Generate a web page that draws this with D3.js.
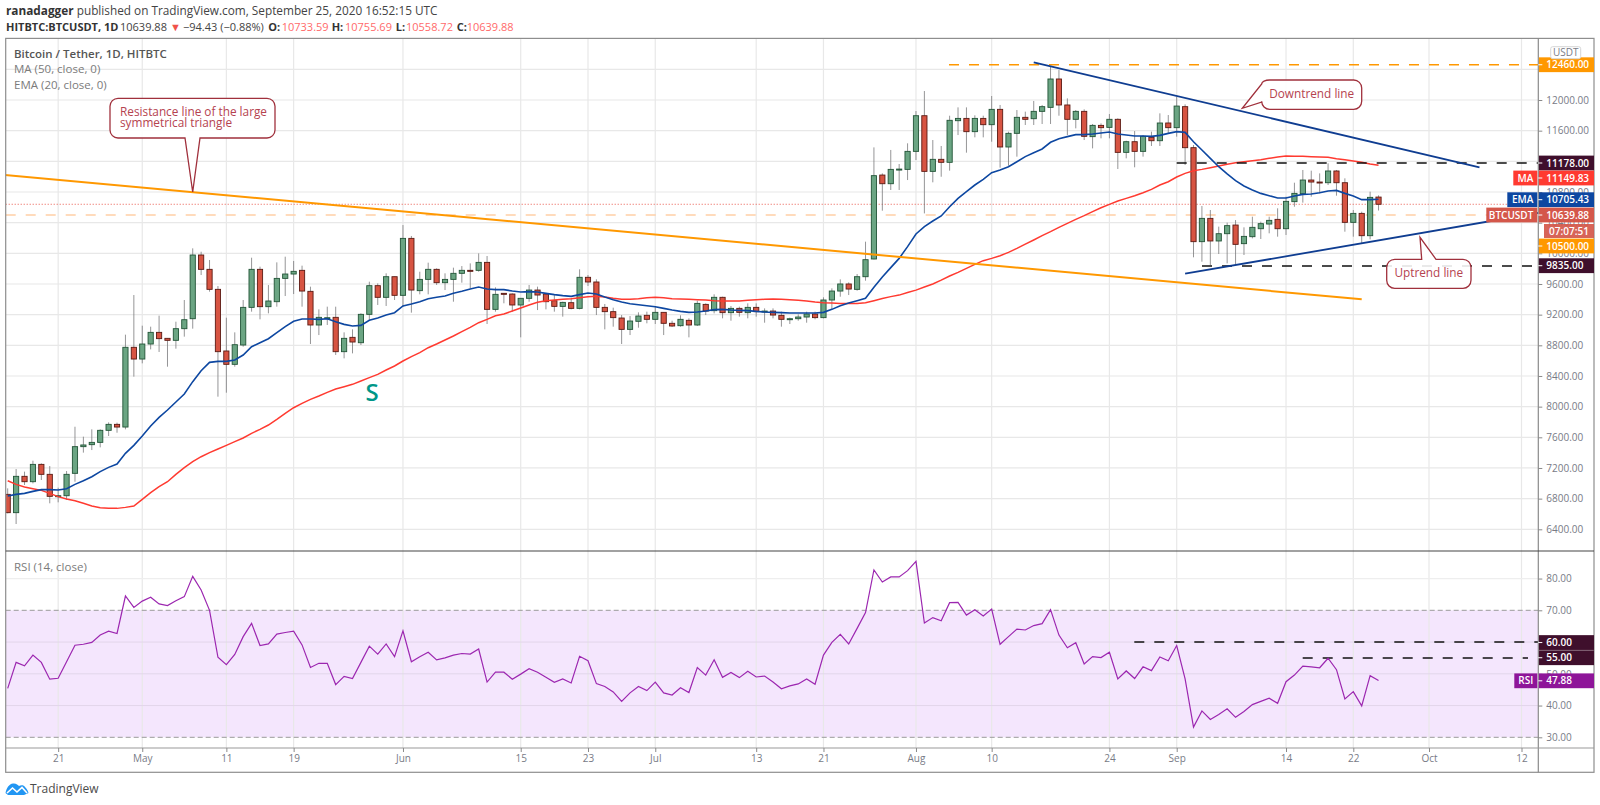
<!DOCTYPE html>
<html>
<head>
<meta charset="utf-8">
<style>
  html, body { margin: 0; padding: 0; background: #fff; }
  svg { display: block; }
  text { font-family: "Open Sans", "Noto Sans", sans-serif; }
</style>
</head>
<body>
<div class="container"></div>
<script src="https://cdn.jsdelivr.net/npm/d3@7"></script>
<script>
// daily candles 15 Apr .. 25 Sep 2020
const opens = [
  6856,6617,7091,7021,7247,7117,6826,6838,7130,7478,7504,7534,7691,7769,7734,8774,
  8621,8817,8969,8891,8865,9017,9147,9978,9791,9530,8726,8552,8804,9295,9791,9304,9369,9673,9730,9778,9504,9065,9150,9165,8717,8904,8834,9204,9578,9426,9695,
  9452,10195,9513,9660,9791,9617,9660,9739,9778,9778,9882,9269,9478,9469,9326,9413,9521,9469,9382,9308,9356,9282,9687,9626,9295,9239,9156,9008,9113,9191,
  9139,9230,9087,9056,9126,9065,9334,9252,9426,9226,9282,9226,9295,9234,9247,9191,9139,9147,9169,9208,9161,9391,9508,9600,9530,9695,9926,11021,10908,11091,11095,
  11330,11795,11069,11226,11187,11730,11760,11587,11760,11678,11878,11387,11565,11774,11756,11852,11904,12274,11935,11748,11852,11522,11669,11643,11748,11317,11456,11330,11513,11469,11700,
  11639,11913,11378,10152,10456,10161,10256,10369,10126,10217,10321,10382,10443,10321,10674,10778,10956,10930,10921,11074,10921,10404,10521,10230,10733.59
]
const highs = [
  6934,7186,7152,7295,7260,7225,6943,7160,7738,7608,7704,7704,7795,7791,8939,9456,
  9056,9043,9187,8891,9108,9391,10065,10021,9913,9573,9160,8969,9391,9943,9826,9586,9882,9956,9900,9839,9565,9269,9304,9304,8969,9008,9217,9630,9608,9739,9695,
  10369,10226,9760,9878,9804,9739,9813,9834,9869,9999,9965,9556,9478,9478,9413,9587,9565,9478,9456,9369,9413,9791,9717,9661,9339,9291,9195,9182,9230,9239,
  9304,9230,9121,9191,9152,9382,9347,9465,9434,9313,9304,9347,9347,9282,9282,9239,9161,9204,9239,9239,9426,9543,9660,9621,9730,10152,11382,11043,11348,11165,11435,
  11856,12117,11478,11400,11795,11904,11904,11800,11795,12052,11935,11587,11869,11848,11987,11935,12435,12391,12021,11869,11878,11687,11695,11817,11761,11469,11595,11543,11587,11826,11804,
  12043,11943,11413,10617,10565,10348,10400,10434,10339,10478,10413,10478,10587,10739,10921,11087,11078,11043,11174,11087,10978,10565,10543,10804,10755.69
]
const lows = [
  6608,6469,6978,6999,7043,6739,6752,6782,7021,7400,7434,7469,7617,7660,7704,8391,
  8565,8747,8713,8521,8756,8913,9017,9717,9500,8130,8182,8521,8782,9239,9139,9217,9304,9443,9469,9304,8817,8934,9065,8674,8630,8695,8804,9130,9326,9313,9391,
  9304,9226,9465,9465,9587,9521,9369,9617,9543,9760,9078,9239,9348,9239,8904,9369,9260,9269,9239,9174,9269,9269,9574,9195,9008,9043,8817,8934,9030,9087,
  9078,8934,9039,9043,8904,9052,9195,9217,9152,9121,9174,9152,9174,9095,9152,9043,9078,9121,9095,9139,9152,9269,9434,9456,9513,9643,9921,10556,10826,10826,10956,
  11217,10521,10926,10999,11078,11543,11313,11513,11513,11456,11117,11143,11261,11674,11674,11687,11687,11795,11543,11630,11478,11369,11500,11500,11100,11239,11122,11261,11400,11400,11565,
  11522,11152,9948,9891,9848,9991,9869,9848,9978,10195,10187,10261,10217,10239,10608,10661,10739,10782,10891,10752,10282,10217,10130,10182,10558.72
]
const closes = [
  6617,7091,7021,7247,7117,6830,6838,7117,7478,7500,7534,7691,7769,7734,8774,8621,
  8817,8969,8887,8865,9017,9134,9978,9791,9530,8717,8552,8808,9295,9791,9304,9378,9673,9730,9765,9508,9065,9165,9160,8717,8891,8843,9204,9578,9426,9695,9452,
  10195,9521,9660,9791,9617,9660,9739,9778,9765,9882,9269,9465,9474,9326,9413,9521,9456,9369,9308,9360,9282,9687,9626,9295,9239,9161,9008,9117,9182,9139,
  9230,9087,9052,9139,9065,9347,9247,9426,9226,9282,9230,9295,9239,9247,9195,9139,9147,9169,9208,9161,9391,9508,9600,9534,9695,9917,11013,10908,11095,11099,11330,
  11795,11069,11226,11187,11735,11760,11587,11760,11678,11878,11387,11565,11774,11748,11852,11913,12274,11935,11748,11852,11526,11669,11639,11748,11317,11456,11330,11526,11469,11700,11639,
  11921,11378,10152,10456,10161,10256,10361,10117,10221,10339,10387,10430,10321,10678,10782,10956,10930,10921,11074,10921,10404,10521,10230,10730,10639.88
]
const ema20 = [
  6834,6856,6869,6895,6917,6917,6912,6930,6986,7034,7086,7152,7208,7252,7391,7495,
  7617,7747,7860,7956,8060,8165,8326,8469,8578,8591,8591,8608,8673,8782,8834,8886,8965,9043,9113,9143,9143,9139,9147,9108,9073,9052,9060,9126,9156,9195,9226,
  9313,9339,9369,9408,9426,9443,9478,9504,9534,9560,9534,9526,
  9526,9508,9495,9500,9495,9478,9461,9448,9439,9461,9482,9469,9430,9395,9365,9343,9330,9317,
  9304,9282,9261,9243,9230,9234,9247,9265,9269,9261,9256,9252,9243,9234,9230,9226,9221,9221,9221,9221,9230,9269,9317,9352,9382,9413,9556,9691,9813,9934,10087,
  10252,10348,10421,10487,10608,10717,10804,10891,10965,11052,11087,11130,11195,11261,11313,11361,11448,11495,11522,11548,11548,11556,11569,11582,11556,11543,11530,11530,11526,11539,11565,
  11587,11578,11456,11348,11239,11130,11035,10948,10878,10826,10782,10752,10721,10721,10748,10769,10774,10791,10813,10821,10782,10748,10700,10700,10705.43
]
const ma50 = [
  7034,6986,6952,6930,6908,6869,6826,6795,6773,6739,6704,6682,6673,6673,6686,6704,
  6791,6878,6956,7021,7117,7204,7282,7347,7400,7447,7495,7543,7591,7652,7704,7760,7834,7913,7986,8043,8095,8139,8186,8230,8260,8291,8334,8378,8421,8478,8530,
  8595,8652,8704,8769,8817,8869,8921,8978,9034,9095,9139,9186,
  9208,9247,9287,9326,9361,9382,9391,9400,9408,9421,9434,9439,9430,9413,9400,9400,9408,9421,
  9426,9421,9408,9404,9400,9395,9391,9382,9378,9378,9378,9387,9395,9400,9404,9400,9395,9387,9378,9365,9356,9352,9347,9347,9347,9356,9382,9410,9435,9455,9490,
  9520,9560,9600,9650,9704,9752,9804,9856,9904,9934,9969,10013,10065,10121,10174,10230,10282,10339,10391,10443,10491,10543,10595,10639,10682,10717,10752,10791,10834,10891,10934,
  10995,11043,11078,11095,11117,11139,11161,11182,11195,11208,11221,11239,11256,11269,11265,11265,11261,11256,11252,11235,11221,11204,11187,11165,11149.83
]
const rsi14 = [
  45.4,53.6,52.5,55.9,53.6,48.3,48.6,53.8,59.0,59.3,59.9,62.2,63.4,62.7,74.5,70.9,
  72.9,74.1,72.0,71.5,73.0,74.3,80.7,76.4,70.0,55.2,52.9,56.1,61.7,65.9,58.9,59.4,62.5,63.0,63.4,59.1,52.0,53.3,53.3,46.6,49.2,48.5,53.6,58.7,56.2,59.4,55.4,
  63.5,53.8,55.4,56.8,54.4,55.0,55.9,56.4,56.2,57.8,47.4,50.5,50.5,48.3,49.9,51.6,50.5,48.9,47.3,48.4,47.1,55.5,54.1,46.9,46.0,44.3,41.3,44.0,46.0,44.7,
  47.4,44.0,43.3,45.6,44.1,52.0,49.6,54.4,48.9,50.4,48.8,50.8,49.0,49.3,47.4,45.3,46.2,46.8,48.4,46.7,55.9,59.9,62.4,59.4,64.3,69.3,82.7,78.9,80.5,80.5,82.5,
  85.4,66.0,67.7,66.7,72.4,72.5,68.5,70.2,68.2,70.4,59.3,61.7,64.1,63.8,65.2,65.8,70.2,62.2,58.2,59.8,53.1,55.4,55.1,56.8,48.4,50.9,48.5,52.2,51.0,55.3,54.1,
  58.9,48.4,33.2,38.3,35.6,37.2,39.0,36.3,38.1,40.3,41.3,42.3,40.7,47.5,49.6,52.4,52.2,51.9,54.9,51.3,42.1,44.4,39.9,49.4,47.88
]

// 11200 and 60 sit fully under their tags, so no tick text for them
const priceTicks = d3.range(6400, 12001, 400).filter(d => d !== 11200)
const rsiTicks = [30, 40, 50, 70, 80]
const timeTicks = ['2020-04-21','2020-05-01','2020-05-11','2020-05-19','2020-06-01','2020-06-15','2020-06-23','2020-07-01','2020-07-13','2020-07-21','2020-08-01','2020-08-10','2020-08-24','2020-09-01','2020-09-14','2020-09-22','2020-10-01','2020-10-12'].map(d => new Date(d))

const dates = d3.utcDay.range(new Date('2020-04-15'), new Date('2020-09-26'))

// trendlines: [date, price]
const resistanceLine = [['2020-04-14', 11030], ['2020-09-23', 9400]]
const downtrendLine = [['2020-08-15', 12492], ['2020-10-07', 11122]]
const uptrendLine = [['2020-09-02', 9734], ['2020-10-14', 10528]]

// layout
const W = 1600, H = 805
const paneLeft = 5.7, axisX = 1538.3, paneRight = 1594
const paneTop = 38.4, split = 551, timeY = 748, paneBottom = 772.3

const GREEN = '#6ba583', RED = '#d75442', GREEN_B = '#225437', RED_B = '#5b1a13', WICK = '#737375'
const ORANGE = '#ff9800', DARK = '#3f0f2c', MA_RED = '#ff3a30', EMA_BLUE = '#0d47a1', LINE_BLUE = '#0f3d91'
const PURPLE = '#8e1599', AXIS_TXT = '#787b86', GRID = '#e8e8e8'

const svg = d3.select('.container').append('svg').attr('width', W).attr('height', H)

const x = d3.scaleUtc().domain([new Date('2020-04-15'), new Date('2020-10-12')]).range([7.7, 7.7 + 180 * 8.41])
const y = d3.scaleLinear().domain([6400, 12000]).range([529.3, 100])
const yR = d3.scaleLinear().domain([30, 70]).range([737.3, 610.3])

svg.append('clipPath').attr('id', 'mainClip').append('rect')
  .attr('x', paneLeft).attr('y', paneTop).attr('width', axisX - paneLeft).attr('height', split - paneTop)
svg.append('clipPath').attr('id', 'rsiClip').append('rect')
  .attr('x', paneLeft).attr('y', split).attr('width', axisX - paneLeft).attr('height', timeY - split)

// RSI band goes under the grid
svg.append('rect')
  .attr('x', paneLeft).attr('width', axisX - paneLeft)
  .attr('y', yR(70)).attr('height', yR(30) - yR(70))
  .attr('fill', '#f4e6fd')

// grid
const grid = svg.append('g').attr('stroke', GRID).attr('stroke-width', 1.2)
grid.selectAll('.v').data(timeTicks).join('line')
  .attr('class', 'v')
  .attr('x1', d => x(d)).attr('x2', d => x(d)).attr('y1', paneTop).attr('y2', timeY)
grid.selectAll('.h').data(d3.range(6400, 12401, 400)).join('line')
  .attr('class', 'h')
  .attr('x1', paneLeft).attr('x2', axisX).attr('y1', d => y(d)).attr('y2', d => y(d))
svg.append('g').attr('stroke', '#e2d6ea').attr('stroke-width', 1).selectAll('line')
  .data([40, 50, 60]).join('line')
  .attr('x1', paneLeft).attr('x2', axisX).attr('y1', d => yR(d)).attr('y2', d => yR(d))
svg.append('line').attr('x1', paneLeft).attr('x2', axisX).attr('y1', yR(80)).attr('y2', yR(80))
  .attr('stroke', '#eeeeee').attr('stroke-width', 1.2)
svg.append('g').attr('stroke', '#9a9a9a').attr('stroke-dasharray', '5 3').selectAll('line')
  .data([70, 30]).join('line')
  .attr('x1', paneLeft).attr('x2', axisX).attr('y1', d => yR(d)).attr('y2', d => yR(d))

// main pane contents
const main = svg.append('g').attr('clip-path', 'url(#mainClip)')

// last price + 10500 lines
main.append('line').attr('x1', paneLeft).attr('x2', axisX).attr('y1', y(10639.88)).attr('y2', y(10639.88))
  .attr('stroke', '#e8564a').attr('stroke-dasharray', '1 2')
main.append('line').attr('x1', paneLeft).attr('x2', axisX).attr('y1', y(10500)).attr('y2', y(10500))
  .attr('stroke', '#ffcfa6').attr('stroke-width', 1.5).attr('stroke-dasharray', '10 10')

const candles = main.append('g').selectAll('g').data(dates).join('g')
candles.append('line')
  .attr('x1', d => x(d)).attr('x2', d => x(d))
  .attr('y1', (d, i) => y(highs[i])).attr('y2', (d, i) => y(lows[i]))
  .attr('stroke', WICK).attr('opacity', .75)
candles.append('rect')
  .attr('x', d => x(d) - 2.6).attr('width', 5.2)
  .attr('y', (d, i) => y(Math.max(opens[i], closes[i])))
  .attr('height', (d, i) => Math.max(1, Math.abs(y(opens[i]) - y(closes[i]))))
  .attr('fill', (d, i) => closes[i] >= opens[i] ? GREEN : RED)
  .attr('stroke', (d, i) => closes[i] >= opens[i] ? GREEN_B : RED_B)
  .attr('stroke-width', .9)

const priceLine = d3.line().x((d, i) => x(dates[i])).y(d => y(d))
main.append('path').attr('d', priceLine(ma50)).attr('fill', 'none').attr('stroke', MA_RED).attr('stroke-width', 1.5)
main.append('path').attr('d', priceLine(ema20)).attr('fill', 'none').attr('stroke', EMA_BLUE).attr('stroke-width', 1.6)

// horizontal levels
function level(g, scale, v, from, to, color) {
  g.append('line').attr('x1', from).attr('x2', to).attr('y1', scale(v)).attr('y2', scale(v))
    .attr('stroke', color).attr('stroke-width', 1.5).attr('stroke-dasharray', '10 10')
}
level(main, y, 12460, 949, axisX, ORANGE)
level(main, y, 11178, 1176.7, axisX, '#111')
level(main, y, 9835, 1202, axisX, '#111')

// trendlines
const trend = d3.line().x(d => x(new Date(d[0]))).y(d => y(d[1]))
main.append('path').attr('d', trend(resistanceLine)).attr('fill', 'none').attr('stroke', ORANGE).attr('stroke-width', 2)
main.append('path').attr('d', trend(downtrendLine)).attr('fill', 'none').attr('stroke', LINE_BLUE).attr('stroke-width', 1.8)
main.append('path').attr('d', trend(uptrendLine)).attr('fill', 'none').attr('stroke', LINE_BLUE).attr('stroke-width', 1.8)

main.append('text').attr('x', 372).attr('y', 401).attr('text-anchor', 'middle')
  .attr('font-size', 24).attr('font-weight', 600).attr('fill', '#009688').text('S')

// callouts
function callout(path, lines, tx, ty, anchor) {
  main.append('path').attr('d', path).attr('fill', '#fff').attr('fill-opacity', .88)
    .attr('stroke', '#a0303c').attr('stroke-width', 1.3)
  lines.forEach((t, i) => {
    main.append('text').attr('x', tx).attr('y', ty + i * 11).attr('text-anchor', anchor)
      .attr('font-size', 11.8).attr('fill', '#b5434f').text(t)
  })
}
callout('M118,98.3H267a8,8 0 0 1 8,8V130a8,8 0 0 1 -8,8H200L192.7,192L185,138H118a8,8 0 0 1 -8,-8V106.3a8,8 0 0 1 8,-8Z',
  ['Resistance line of the large', 'symmetrical triangle'], 120, 116, 'start')
callout('M1269.7,80H1353.7a8,8 0 0 1 8,8V101.3a8,8 0 0 1 -8,8H1269.7a8,8 0 0 1 -8,-8V102L1242.3,108.3L1261.7,84a8,4 0 0 1 8,-4Z',
  ['Downtrend line'], 1311.7, 97.5, 'middle')
callout('M1394.7,259.3H1421.7L1420,237.3L1436,259.3H1463a8,8 0 0 1 8,8V280.3a8,8 0 0 1 -8,8H1394.7a8,8 0 0 1 -8,-8V267.3a8,8 0 0 1 8,-8Z',
  ['Uptrend line'], 1428.8, 276.5, 'middle')

// RSI pane
const rsiPane = svg.append('g').attr('clip-path', 'url(#rsiClip)')
level(rsiPane, yR, 60, 1134.3, axisX, '#111')
level(rsiPane, yR, 55, 1302.7, 1528, '#111')
rsiPane.append('path')
  .attr('d', d3.line().x((d, i) => x(dates[i])).y(d => yR(d))(rsi14))
  .attr('fill', 'none').attr('stroke', '#9c27b0').attr('stroke-width', 1.2)

// frame
const border = svg.append('g').attr('fill', 'none')
border.append('rect').attr('x', paneLeft).attr('y', paneTop).attr('width', paneRight - paneLeft).attr('height', paneBottom - paneTop)
  .attr('stroke', '#8e8e8e').attr('stroke-width', 1.2)
border.append('line').attr('x1', axisX).attr('x2', axisX).attr('y1', paneTop).attr('y2', paneBottom).attr('stroke', '#8a8a8a').attr('stroke-width', 1.2)
border.append('line').attr('x1', paneLeft).attr('x2', paneRight).attr('y1', split).attr('y2', split).attr('stroke', '#444').attr('stroke-width', 1.2)
border.append('line').attr('x1', paneLeft).attr('x2', paneRight).attr('y1', timeY).attr('y2', timeY).attr('stroke', '#9a9a9a').attr('stroke-width', 1.2)

// axes
function styleAxis(g) {
  g.select('.domain').remove()
  g.selectAll('.tick line').attr('stroke', '#8a8a8a')
  g.selectAll('.tick text').attr('fill', AXIS_TXT).attr('font-size', 10)
    .style('font-family', '"Open Sans", sans-serif')
}
svg.append('g').attr('transform', `translate(${axisX},0)`)
  .call(d3.axisRight(y).tickValues(priceTicks).tickSize(4).tickPadding(4).tickFormat(d3.format('.2f')))
  .call(styleAxis)
svg.append('g').attr('transform', `translate(${axisX},0)`)
  .call(d3.axisRight(yR).tickValues(rsiTicks).tickSize(4).tickPadding(4).tickFormat(d3.format('.2f')))
  .call(styleAxis)
svg.append('g').attr('transform', `translate(0,${timeY})`)
  .call(d3.axisBottom(x).tickValues(timeTicks).tickSize(4).tickPadding(3)
    .tickFormat(d => d.getUTCDate() === 1 ? d3.utcFormat('%b')(d) : d3.utcFormat('%-d')(d)))
  .call(styleAxis)

// value tags on the price scale
function tag(cy, color, value, name) {
  const g = svg.append('g')
  g.append('rect').attr('x', axisX + .6).attr('y', cy - 7.4).attr('width', paneRight - axisX - .6).attr('height', 14.8).attr('fill', color)
  g.append('line').attr('x1', axisX).attr('x2', axisX + 4).attr('y1', cy).attr('y2', cy).attr('stroke', '#fff')
  g.append('text').attr('x', axisX + 8).attr('y', cy + 3.6).attr('fill', '#fff')
    .attr('font-size', 10).attr('font-weight', 600).text(value)
  if (name) {
    g.append('rect').attr('x', axisX - name.w - 1).attr('y', cy - 7.4).attr('width', name.w).attr('height', 14.8).attr('fill', color)
    g.append('text').attr('x', axisX - 5).attr('y', cy + 3.6).attr('text-anchor', 'end').attr('fill', '#fff')
      .attr('font-size', 10).attr('font-weight', 600).text(name.t)
  }
}
tag(y(12460), ORANGE, '12460.00')
tag(y(11178), DARK, '11178.00')
tag(178, MA_RED, '11149.83', {t: 'MA', w: 24})
tag(199.7, EMA_BLUE, '10705.43', {t: 'EMA', w: 30})
tag(215, '#d4574a', '10639.88', {t: 'BTCUSDT', w: 51})
svg.append('rect').attr('x', 1544).attr('y', 224).attr('width', 50).attr('height', 14).attr('fill', '#d4574a').attr('opacity', .92)
svg.append('text').attr('x', 1569).attr('y', 234.6).attr('text-anchor', 'middle').attr('fill', '#fff')
  .attr('font-size', 10).attr('font-weight', 600).text('07:07:51')
tag(246, ORANGE, '10500.00')
tag(265.7, DARK, '9835.00')
tag(yR(60) + .5, DARK, '60.00')
tag(yR(55) - .2, DARK, '55.00')
tag(680.8, PURPLE, '47.88', {t: 'RSI', w: 23})

// USDT box
svg.append('rect').attr('x', 1550.7).attr('y', 46.7).attr('width', 30).attr('height', 12).attr('rx', 2)
  .attr('fill', '#fff').attr('stroke', '#d6d6d6')
svg.append('text').attr('x', 1565.7).attr('y', 56.3).attr('text-anchor', 'middle')
  .attr('font-size', 10).attr('fill', AXIS_TXT).text('USDT')

// pane legends
const legend = svg.append('g').attr('font-size', 11.5)
legend.append('text').attr('x', 14).attr('y', 58).attr('font-weight', 600).attr('fill', '#555').text('Bitcoin / Tether, 1D, HITBTC')
legend.append('text').attr('x', 14).attr('y', 73).attr('fill', '#7b7b7b').text('MA (50, close, 0)')
legend.append('text').attr('x', 14).attr('y', 89).attr('fill', '#7b7b7b').text('EMA (20, close, 0)')
legend.append('text').attr('x', 14).attr('y', 571).attr('fill', '#7b7b7b').text('RSI (14, close)')

// header
const l1 = svg.append('text').attr('x', 6).attr('y', 15).attr('font-size', 11.8).attr('fill', '#444')
l1.append('tspan').attr('font-weight', 700).attr('fill', '#333').text('ranadagger')
l1.append('tspan').text(' published on TradingView.com, September 25, 2020 16:52:15 UTC')

const l2 = svg.append('text').attr('y', 31).attr('font-size', 11).attr('fill', '#444')
const headerParts = [
  [6, 'HITBTC:BTCUSDT, 1D', 700, '#333'],
  [120, '10639.88', 400, '#444'],
  [170, '▼', 400, '#f0524a'],
  [183, '−94.43 (−0.88%)', 400, '#444'],
  [268.3, 'O:', 700, '#333'], [281.7, '10733.59', 400, '#ff6a6a'],
  [331.7, 'H:', 700, '#333'], [345, '10755.69', 400, '#ff6a6a'],
  [395.7, 'L:', 700, '#333'], [406, '10558.72', 400, '#ff6a6a'],
  [456.7, 'C:', 700, '#333'], [466.7, '10639.88', 400, '#ff6a6a']
]
headerParts.forEach(d => {
  l2.append('tspan').attr('x', d[0]).attr('font-weight', d[2]).attr('fill', d[3]).text(d[1])
})

// logo
const logo = svg.append('g')
logo.append('path').attr('d', 'M5.5,793C6.5,788 9,784 13,783.5C16,783 18,785 19,786C21,785 24,785 25,787C27,789 28,791 28.5,793L24,795H8Z').attr('fill', '#2196f3')
logo.append('path').attr('d', 'M7,793L12.5,788L17,792L22,787.5L27,793').attr('fill', 'none').attr('stroke', '#fff').attr('stroke-width', 1.6)
svg.append('text').attr('x', 30).attr('y', 793).attr('font-size', 12).attr('fill', '#4a4a4a').text('TradingView')
</script>
</body>
</html>
